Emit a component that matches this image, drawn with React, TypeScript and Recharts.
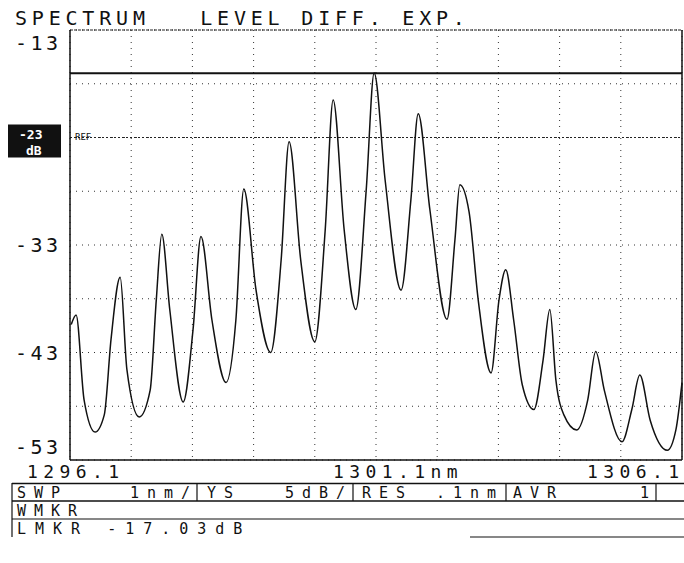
import { LineChart, Line, XAxis, YAxis, CartesianGrid, ReferenceLine } from 'recharts';

const wavelengths = [
  1296.12, 1296.2, 1296.33, 1296.51, 1296.66, 1296.77, 1296.92, 1297.03, 1297.23, 1297.41,
  1297.51, 1297.6, 1297.73, 1297.95, 1298.11, 1298.24, 1298.42, 1298.65, 1298.81, 1298.94,
  1299.14, 1299.38, 1299.55, 1299.68, 1299.87, 1300.1, 1300.27, 1300.4, 1300.58, 1300.77,
  1300.94, 1301.07, 1301.25, 1301.51, 1301.67, 1301.79, 1301.98, 1302.26, 1302.39, 1302.47,
  1302.62, 1302.77, 1302.98, 1303.11, 1303.22, 1303.35, 1303.49, 1303.68, 1303.83, 1303.94,
  1304.04, 1304.17, 1304.38, 1304.56, 1304.69, 1304.83, 1305.12, 1305.28, 1305.41, 1305.58,
  1305.86, 1306.0, 1306.1,
];
const levels = [
  -40.4, -39.5, -47.4, -50.4, -48.8, -41.8, -36.0, -44.6, -49.0, -46.5,
  -38.1, -32.0, -39.0, -47.6, -40.9, -32.2, -40.0, -45.8, -40.0, -27.8,
  -37.2, -43.0, -34.4, -23.4, -34.4, -42.0, -31.6, -19.5, -31.6, -39.0,
  -27.9, -17.0, -27.0, -37.2, -28.8, -20.8, -29.7, -39.9, -32.5, -27.4,
  -29.9, -38.1, -44.9, -38.1, -35.3, -40.0, -46.0, -48.3, -43.7, -39.0,
  -45.6, -48.8, -50.2, -47.4, -42.9, -46.5, -51.3, -48.3, -45.1, -49.3,
  -52.1, -50.2, -45.8,
];

const xTicks = [1296.1, 1297.1, 1298.1, 1299.1, 1300.1, 1301.1, 1302.1, 1303.1, 1304.1, 1305.1, 1306.1];
const xLabels: Record<string, string> = { '1296.1': '1296.1', '1301.1': '1301.1nm', '1306.1': '1306.1' };
const yTicks = [-53, -48, -43, -38, -33, -28, -23, -18, -13];
const yLabels: Record<string, string> = { '-13': '-13', '-33': '-33', '-43': '-43', '-53': '-53' };
const refLevel = -23;
const markerLevel = -17.03;

const title = 'SPECTRUM   LEVEL DIFF. EXP.';
const row1 = [
  { text: 'SWP', x: 15 }, { text: '1nm/', x: 128 },
  { text: 'YS', x: 205 }, { text: '5dB/', x: 283 },
  { text: 'RES', x: 360 }, { text: '.1nm', x: 434 },
  { text: 'AVR', x: 511 }, { text: '1', x: 638 },
];
const row1Seps = [197, 353, 506, 656];
const wmkrText = 'WMKR';
const lmkrText = 'LMKR -17.03dB';

const data = wavelengths.map((wl, i) => ({ wl, level: levels[i] }));

const FONT = '"DejaVu Sans Mono", monospace';

function YTick({ y, payload }: any) {
  const v = payload.value;
  if (v === refLevel) {
    return (
      <g>
        <rect x={8} y={y - 13} width={53} height={33} fill="#111" />
        <text x={19} y={y + 1} fill="#fff" fontFamily={FONT} fontSize={13} fontWeight="bold">-23</text>
        <text x={26} y={y + 17} fill="#fff" fontFamily={FONT} fontSize={13} fontWeight="bold">dB</text>
      </g>
    );
  }
  const label = yLabels[String(v)];
  if (!label) return null;
  let dy = 7;
  if (v === -13) dy = 20;
  if (v === -53) dy = -6;
  return (
    <text x={15} y={y + dy} fill="#111" fontFamily={FONT} fontSize={20} letterSpacing={3.5}>
      {label}
    </text>
  );
}

function XTick({ x, payload }: any) {
  const key = payload.value.toFixed(1);
  const label = xLabels[key];
  if (!label) return null;
  const dx = key === '1306.1' ? -95 : -43;
  return (
    <text x={x + dx} y={478} fill="#111" fontFamily={FONT} fontSize={18} letterSpacing={5.4}>
      {label}
    </text>
  );
}

export default function App() {
  return (
    <div style={{ position: 'absolute', left: 0, top: 0, width: 684, height: 563, background: '#fff' }}>
      <LineChart width={684} height={563} data={data} margin={{ top: 30, right: 2, bottom: 73, left: 0 }}>
        <CartesianGrid stroke="#333" strokeDasharray="1 5" />
        <XAxis
          type="number"
          dataKey="wl"
          domain={[1296.1, 1306.1]}
          ticks={xTicks}
          height={30}
          axisLine={{ stroke: '#111', strokeWidth: 1.5 }}
          tickLine={false}
          tick={(p: any) => <XTick {...p} />}
          interval={0}
        />
        <YAxis
          type="number"
          domain={[-53, -13]}
          ticks={yTicks}
          width={70}
          axisLine={{ stroke: '#111', strokeWidth: 1.5 }}
          tickLine={false}
          tick={(p: any) => <YTick {...p} />}
          interval={0}
        />
        <ReferenceLine y={-13} stroke="#222" strokeWidth={1} strokeDasharray="3 1" />
        <ReferenceLine x={1306.1} stroke="#111" strokeWidth={1.5} />
        <ReferenceLine
          y={refLevel}
          stroke="#222"
          strokeDasharray="2 2"
          label={{ value: 'REF', position: 'insideLeft', fontSize: 9, fill: '#111', fontFamily: FONT, dy: -1 }}
        />
        <ReferenceLine y={markerLevel} stroke="#111" strokeWidth={2} />
        <Line
          type="monotone"
          dataKey="level"
          stroke="#111"
          strokeWidth={1.5}
          dot={false}
          isAnimationActive={false}
        />
      </LineChart>
      <svg width={684} height={563} style={{ position: 'absolute', left: 0, top: 0, pointerEvents: 'none' }}>
        <text x={15} y={25} fill="#111" fontFamily={FONT} fontSize={20} letterSpacing={4.8} style={{ whiteSpace: 'pre' }}>
          {title}
        </text>
        {/* tabla de parámetros */}
        <line x1={12} y1={483.5} x2={684} y2={483.5} stroke="#111" strokeWidth={1.5} />
        <line x1={12} y1={501} x2={684} y2={501} stroke="#111" strokeWidth={1.5} />
        <line x1={12} y1={519} x2={684} y2={519} stroke="#111" strokeWidth={1.2} />
        <line x1={470} y1={537} x2={684} y2={537} stroke="#111" strokeWidth={1.2} />
        <line x1={12} y1={483} x2={12} y2={537} stroke="#111" strokeWidth={1.2} />
        {row1Seps.map((sx) => (
          <line key={sx} x1={sx} y1={483} x2={sx} y2={501} stroke="#111" strokeWidth={1.2} />
        ))}
        {row1.map((c) => (
          <text key={c.text + c.x} x={c.x + 2} y={498} fill="#111" fontFamily={FONT} fontSize={15} letterSpacing={8}>
            {c.text}
          </text>
        ))}
        <text x={17} y={516} fill="#111" fontFamily={FONT} fontSize={15} letterSpacing={8}>{wmkrText}</text>
        <text x={17} y={534} fill="#111" fontFamily={FONT} fontSize={15} letterSpacing={9} style={{ whiteSpace: 'pre' }}>
          {lmkrText}
        </text>
      </svg>
    </div>
  );
}
